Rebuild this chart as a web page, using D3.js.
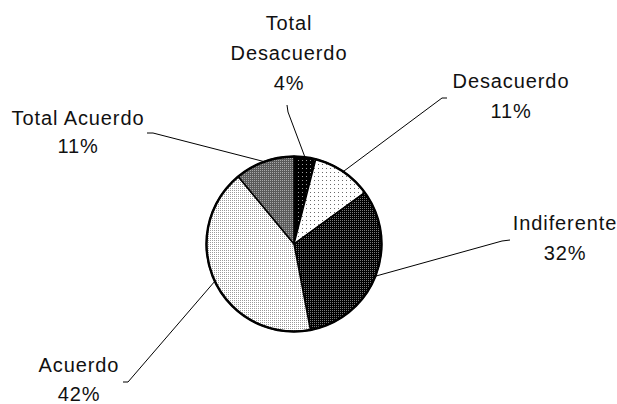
<!DOCTYPE html>
<html>
<head>
<meta charset="utf-8">
<script src="https://cdn.jsdelivr.net/npm/d3@7"></script>
<style>
  body { margin: 0; background: #fff; }
  text { font-family: "Liberation Sans", Arial, sans-serif; font-size: 20px; letter-spacing: 0.9px; fill: #111; }
</style>
</head>
<body>
<svg id="chart" width="617" height="404"></svg>
<script>
// data, clockwise from 12 o'clock
const categories = ["Total Desacuerdo", "Desacuerdo", "Indiferente", "Acuerdo", "Total Acuerdo"];
const values = [4, 11, 32, 42, 11];
const labelLines = [["Total", "Desacuerdo", "4%"], ["Desacuerdo", "11%"], ["Indiferente", "32%"], ["Acuerdo", "42%"], ["Total Acuerdo", "11%"]];

const svg = d3.select("#chart");
const cx = 294, cy = 244, r = 87.5;

// fill patterns (bg colour, dot colour, spacing)
const patterns = [
  { id: "p0", bg: "#000", dot: "#a0a0a0", step: 4 },
  { id: "p1", bg: "#fff", dot: "#6a6a6a", step: 4 },
  { id: "p2", bg: "#000", dot: "#7a7a7a", step: 2 },
  { id: "p3", bg: "#fff", dot: "#9a9a9a", step: 2 },
  { id: "p4", bg: "#5a5a5a", dot: "#a8a8a8", step: 2 }
];
const defs = svg.append("defs");
patterns.forEach(function (p) {
  const pat = defs.append("pattern")
    .attr("id", p.id)
    .attr("patternUnits", "userSpaceOnUse")
    .attr("width", p.step).attr("height", p.step);
  pat.append("rect").attr("width", p.step).attr("height", p.step).attr("fill", p.bg);
  pat.append("rect").attr("width", 1).attr("height", 1).attr("fill", p.dot);
});

const pie = d3.pie().sort(null).value(function (d) { return d; });
const arc = d3.arc().innerRadius(0).outerRadius(r);
const arcs = pie(values);

const g = svg.append("g").attr("transform", "translate(" + cx + "," + cy + ")");
g.selectAll("path")
  .data(arcs)
  .join("path")
  .attr("d", arc)
  .attr("fill", function (d, i) { return "url(#" + patterns[i].id + ")"; })
  .attr("stroke", "#000")
  .attr("stroke-width", 1.5);

g.append("circle").attr("r", r).attr("fill", "none").attr("stroke", "#000").attr("stroke-width", 2.4);

// label centre x, first baseline y, line gap, leader elbow points
const labelPos = [
  { x: 289, y: 30, gap: 30, elbow: [[287, 105], [288, 112]] },
  { x: 511, y: 88, gap: 30, elbow: [[447, 98], [442, 98]] },
  { x: 565, y: 230, gap: 30, elbow: [[510, 240], [502, 241]] },
  { x: 79, y: 372, gap: 29, elbow: [[123, 382], [128, 382]] },
  { x: 78, y: 125, gap: 28, elbow: [[147, 133], [153, 133]] }
];

arcs.forEach(function (a, i) {
  const mid = (a.startAngle + a.endAngle) / 2;
  const edge = [cx + r * Math.sin(mid), cy - r * Math.cos(mid)];
  const pts = labelPos[i].elbow.concat([edge]);
  svg.append("polyline")
    .attr("points", pts.map(function (p) { return p.join(","); }).join(" "))
    .attr("fill", "none").attr("stroke", "#000").attr("stroke-width", 1);

  const t = svg.append("text").attr("text-anchor", "middle");
  labelLines[i].forEach(function (line, j) {
    t.append("tspan").attr("x", labelPos[i].x).attr("y", labelPos[i].y + j * labelPos[i].gap).text(line);
  });
});
</script>
</body>
</html>
